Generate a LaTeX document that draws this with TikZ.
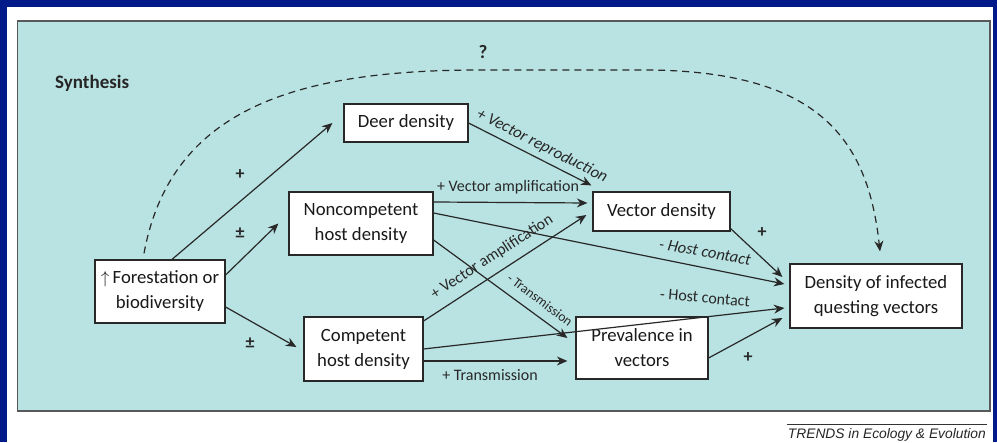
\documentclass[tikz,border=0pt]{standalone}
\usepackage{fontspec}
\setmainfont{Carlito}
\newfontfamily\trendsfont{Liberation Sans}
\usetikzlibrary{arrows.meta,calc}
\definecolor{frameblue}{RGB}{0,27,137}
\definecolor{panel}{RGB}{185,226,226}
\definecolor{ink}{RGB}{40,40,40}
\begin{document}
\begin{tikzpicture}[x=1pt,y=-1pt,
  box/.style={draw=ink,line width=1.2pt,fill=white,inner sep=0pt,align=center,
    font=\fontsize{18.7}{25}\selectfont,text=black!90},
  arr/.style={draw=ink,line width=1.2pt,-{Stealth[length=10.5pt,width=9pt]}},
  dasharr/.style={draw=ink,line width=1.2pt,dash pattern=on 7pt off 5pt,-{Stealth[length=10.5pt,width=9pt]}},
  lbl/.style={font=\fontsize{16}{19}\selectfont,inner sep=0pt,text=ink},
  ilbl/.style={lbl,font=\fontsize{16.5}{19}\selectfont\itshape},
  slbl/.style={lbl,font=\fontsize{13.5}{16}\selectfont},
  sign/.style={font=\bfseries\fontsize{18}{20}\selectfont,inner sep=0pt,text=ink}]
% background
\fill[frameblue] (0,0) rectangle (997,442);
\fill[white] (7,7) rectangle (993,443);
\useasboundingbox (0,0) rectangle (997,442);
\draw[fill=panel,draw=black!65,line width=1.2pt] (17.5,21) rectangle (990,411);
% titles
\node[anchor=west,font=\bfseries\fontsize{19}{22}\selectfont,text=black!85,inner sep=0pt] (syn) at (55,83) {Synthesis};
\node[font=\bfseries\fontsize{19}{22}\selectfont,text=black!85,inner sep=0pt] (q) at (483,52) {?};
% nodes
\node[box,minimum width=124pt,minimum height=38pt] (deer) at (406,123) {Deer density};
\node[box,minimum width=144pt,minimum height=63pt] (nonc) at (361,223.5) {Noncompetent\\host density};
\node[box,minimum width=130pt,minimum height=63pt] (forest) at (160,291.5) {$\uparrow$\,Forestation or\\biodiversity};
\node[box,minimum width=119pt,minimum height=64pt] (comp) at (363.5,349) {Competent\\host density};
\node[box,minimum width=137pt,minimum height=39pt] (vec) at (661.5,211.5) {Vector density};
\node[box,minimum width=172pt,minimum height=64pt] (dens) at (876,296) {Density of infected\\questing vectors};
\node[box,minimum width=132pt,minimum height=62pt] (prev) at (642,348) {Prevalence in\\vectors};
% connectors
\draw[arr] ([xshift=12pt]forest.north) -- ([xshift=-11pt]deer.west);
\draw[arr] ([yshift=16.5pt]forest.east) -- ([xshift=-10pt]nonc.west);
\draw[arr] ([yshift=-15.5pt]forest.east) -- ([xshift=-7pt,yshift=2pt]comp.west);
\draw[dasharr] ([xshift=-16pt,yshift=6pt]forest.north) .. controls (170,112) and (290,70) .. (480,70)
  -- (650,70) .. controls (820,72) and (868,140) .. ([xshift=4pt,yshift=12pt]dens.north);
\draw[arr] (deer.east) -- ([xshift=-1pt,yshift=6pt]vec.north west);
\draw[arr] ([yshift=21.5pt]nonc.east) -- ([xshift=-5pt,yshift=8.5pt]vec.west);
\draw[arr] ([yshift=10.5pt]nonc.east) -- ([xshift=-5pt,yshift=12pt]dens.west);
\draw[arr] ([yshift=-16.5pt]nonc.east) -- ([xshift=-8pt,yshift=10pt]prev.west);
\draw[arr] ([yshift=28pt]comp.east) -- ([xshift=-6pt,yshift=-3.5pt]vec.west);
\draw[arr] (comp.east) -- ([xshift=-5pt,yshift=-12pt]dens.west);
\draw[arr] ([yshift=-12pt]comp.east) -- ([xshift=-8pt,yshift=-13pt]prev.west);
\draw[arr] ([yshift=3pt]vec.south east) -- ([xshift=-7pt,yshift=19pt]dens.west);
\draw[arr] ([yshift=-10pt]prev.east) -- ([xshift=-7pt,yshift=-22pt]dens.west);
% labels
\node[sign] (s1) at (240,175) {+};
\node[sign] (s2) at (240,233) {±};
\node[sign] (s3) at (250,343) {±};
\node[sign] (s4) at (762,233) {+};
\node[sign] (s5) at (748,358) {+};
\node[ilbl,rotate=-27] (l1) at (542,146) {+ Vector reproduction};
\node[lbl] (l2) at (508,187) {+ Vector amplification};
\node[ilbl,rotate=-10] (l3) at (705,252) {- Host contact};
\node[slbl,rotate=-37] (l4) at (540,300) {- Transmission};
\node[lbl,rotate=33] (l5) at (492,257) {+ Vector amplification};
\node[lbl,rotate=-5] (l6) at (705,298) {- Host contact};
\node[lbl] (l7) at (490,375) {+ Transmission};
% footer
\draw[black!80,line width=0.8pt] (787,424) -- (987,424);
\node[anchor=east,inner sep=0pt,font=\trendsfont\itshape\fontsize{13.8}{16}\selectfont,text=black!85] (foot) at (986,435) {TRENDS in Ecology \& Evolution};
\end{tikzpicture}
\end{document}
